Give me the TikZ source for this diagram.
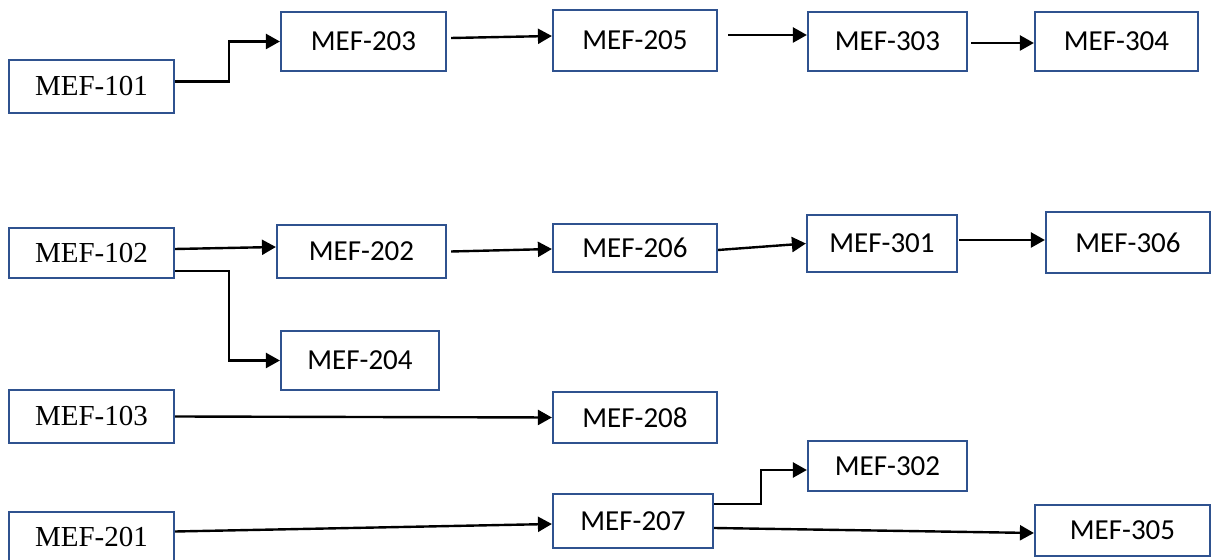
\documentclass[tikz,border=0pt]{standalone}
\usepackage{fontspec}
\setmainfont{Liberation Serif}
\newfontfamily\calibri{Carlito}
\usetikzlibrary{arrows.meta,calc}

\definecolor{boxblue}{HTML}{2F528F}

\begin{document}
\begin{tikzpicture}[x=0.5pt,y=-0.5pt,
    box/.style={draw=boxblue,line width=1.1pt,rectangle,inner sep=0pt,
                font=\calibri\fontsize{14.5}{17}\selectfont},
    firstbox/.style={box,font=\fontsize{14.5}{17}\selectfont},
    arr/.style={line width=1.2pt,-{Triangle[length=7pt,width=7.5pt]}}]
%Fix the size of the page to the size of the drawing
\useasboundingbox (0,0) rectangle (1215,560);
%First column: the courses on the left, set in the serif font
\node[firstbox,minimum width=82.5pt,minimum height=26.5pt] (m101) at (91.5,86.5) {MEF-101};
\node[firstbox,minimum width=82.5pt,minimum height=25pt] (m102) at (91.5,253) {MEF-102};
\node[firstbox,minimum width=82.5pt,minimum height=26.5pt] (m103) at (91.5,416.5) {MEF-103};
\node[firstbox,minimum width=82.5pt,minimum height=24.5pt] (m201) at (91.5,536.5) {MEF-201};
%Second column
\node[box,minimum width=82.5pt,minimum height=29.5pt] (m203) at (363.5,41.5) {MEF-203};
\node[box,minimum width=84.5pt,minimum height=26.5pt] (m202) at (361.5,251.5) {MEF-202};
\node[box,minimum width=79pt,minimum height=29.5pt] (m204) at (360,360.5) {MEF-204};
%Third column
\node[box,minimum width=82pt,minimum height=30.5pt] (m205) at (635,40.5) {MEF-205};
\node[box,minimum width=82pt,minimum height=24pt] (m206) at (635,248) {MEF-206};
\node[box,minimum width=82pt,minimum height=25.5pt] (m208) at (635,417.5) {MEF-208};
\node[box,minimum width=80pt,minimum height=27pt] (m207) at (633,521) {MEF-207};
%Fourth column
\node[box,minimum width=79.5pt,minimum height=29.5pt] (m303) at (887.5,41.5) {MEF-303};
\node[box,minimum width=75pt,minimum height=28.5pt] (m301) at (882,243.5) {MEF-301};
\node[box,minimum width=79.5pt,minimum height=25pt] (m302) at (887.5,466) {MEF-302};
%Last column
\node[box,minimum width=81.5pt,minimum height=29.5pt] (m304) at (1116.5,41.5) {MEF-304};
\node[box,minimum width=82pt,minimum height=30.5pt] (m306) at (1128,242.5) {MEF-306};
\node[box,minimum width=87.5pt,minimum height=25.5pt] (m305) at (1122.5,530.5) {MEF-305};
%Now the arrows between the courses, by the names given above
\draw[arr] ($(m101.east)+(0,-5)$) -- ++(54,0) |- (m203.west);
\draw[arr] ($(m203.east)+(4,-3.5)$) -- ($(m205.west)+(0,-4.5)$);
\draw[arr] ($(m205.east)+(10,-5.5)$) -- ($(m303.west)+(0,-6.5)$);
\draw[arr] ($(m303.east)+(3,1.5)$) -- ($(m304.west)+(0,1.5)$);
\draw[arr] ($(m102.east)+(0,-4)$) -- ($(m202.west)+(0,-4.5)$);
\draw[arr] ($(m102.east)+(0,18)$) -- ++(54,0) |- (m204.west);
\draw[arr] ($(m202.east)+(4,0)$) -- ($(m206.west)+(0,1)$);
\draw[arr] ($(m206.east)+(0,2)$) -- (m301.west);
\draw[arr] ($(m301.east)+(1,-3.5)$) -- ($(m306.west)+(0,-2.5)$);
\draw[arr] (m103.east) -- (m208.west);
\draw[arr] ($(m201.east)+(0,-5)$) -- ($(m207.west)+(0,3)$);
\draw[arr] ($(m207.east)+(0,-17)$) -- ++(47,0) |- ($(m302.west)+(0,4)$);
\draw[arr] ($(m207.east)+(0,7)$) -- ($(m305.west)+(0,2.5)$);
\end{tikzpicture}
\end{document}
